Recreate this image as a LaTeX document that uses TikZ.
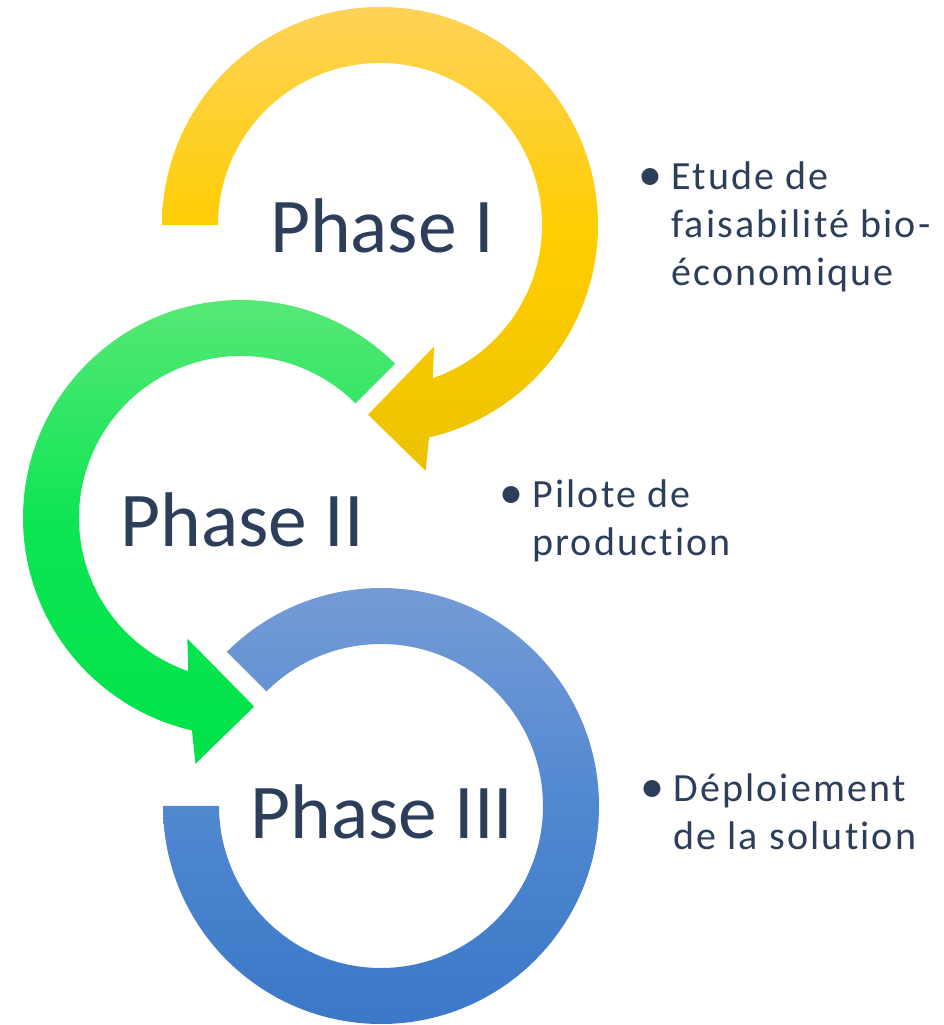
\documentclass[tikz,border=0pt]{standalone}
\usepackage{fontspec}
\setmainfont{Carlito}[Ligatures=NoCommon]
\newfontfamily\itemfont{Carlito}[LetterSpace=5.5, Ligatures=NoCommon]
\usetikzlibrary{positioning}
\definecolor{phasetext}{RGB}{44,62,90}
\tikzset{
  phase/.style={text=phasetext, font=\fontsize{77.5}{93}\selectfont, anchor=base, inner sep=0pt},
  item/.style={text=phasetext, font=\itemfont\fontsize{40}{48}\selectfont, anchor=base west, inner sep=0pt},
  ring1/.style={top color={rgb,255:red,255;green,210;blue,88}, bottom color={rgb,255:red,236;green,194;blue,0}, middle color={rgb,255:red,255;green,206;blue,0}},
  ring2/.style={top color={rgb,255:red,94;green,232;blue,122}, bottom color={rgb,255:red,0;green,226;blue,72}, middle color={rgb,255:red,14;green,229;blue,84}},
  ring3/.style={top color={rgb,255:red,117;green,155;blue,214}, bottom color={rgb,255:red,59;green,120;blue,200}, middle color={rgb,255:red,80;green,136;blue,208}},
}
\begin{document}
\begin{tikzpicture}[x=1pt,y=1pt]
      \useasboundingbox (0,0) rectangle (944,1025);
      \coordinate (c1) at (380,800);
      \coordinate (c2) at (241,507);
      \coordinate (c3) at (381,219);
      \shade[ring1] ([shift={(180:218pt)}]c1) arc[start angle=180, end angle=-77, radius=218pt]
        -- ([shift={(-79.5:250pt)}]c1) -- ([shift={(-93.6:190pt)}]c1) -- ([shift={(-66:133pt)}]c1)
        -- ([shift={(-71:162pt)}]c1) arc[start angle=-71, end angle=180, radius=162pt] -- cycle;
      \shade[ring2] ([shift={(45:218pt)}]c2) arc[start angle=45, end angle=257, radius=218pt]
        -- ([shift={(259.5:250pt)}]c2) -- ([shift={(274:189pt)}]c2) -- ([shift={(246:132pt)}]c2)
        -- ([shift={(251:162pt)}]c2) arc[start angle=251, end angle=45, radius=162pt] -- cycle;
      \shade[ring3] ([shift={(180:218pt)}]c3) arc[start angle=180, end angle=495, radius=218pt]
        -- ([shift={(135:162pt)}]c3) arc[start angle=135, end angle=-180, radius=162pt] -- cycle;
      \node[phase] (p1) at (382,772) {Phase I};
      \node[phase] (p2) at (242,478) {Phase II};
      \node[phase] (p3) at (382,186) {Phase III};
      \node[item] (t1) at (671,835) {\begin{tabular}[t]{@{}l@{}}\llap{\raisebox{-1pt}{\scalebox{1.2}{•}}\hspace{9pt}}Etude de\\faisabilité bio-\\économique\end{tabular}};
      \node[item] (t2) at (532,517) {\begin{tabular}[t]{@{}l@{}}\llap{\raisebox{-1pt}{\scalebox{1.2}{•}}\hspace{9pt}}Pilote de\\production\end{tabular}};
      \node[item] (t3) at (673,223) {\begin{tabular}[t]{@{}l@{}}\llap{\raisebox{-1pt}{\scalebox{1.2}{•}}\hspace{9pt}}Déploiement\\de la solution\end{tabular}};
    \end{tikzpicture}
\end{document}
